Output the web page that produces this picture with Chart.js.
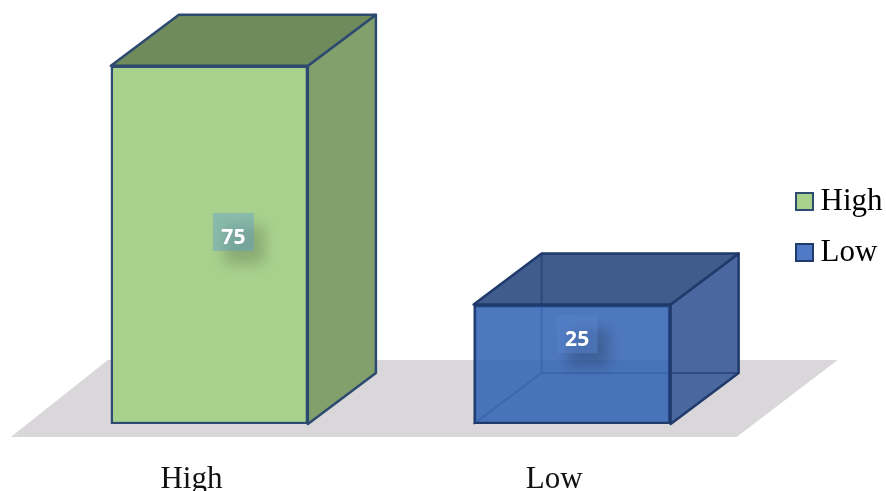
<!DOCTYPE html>
<html>
<head>
<meta charset="utf-8">
<style>
  html, body { margin: 0; padding: 0; background: #fff; }
  canvas { display: block; }
</style>
<script src="https://cdn.jsdelivr.net/npm/chart.js@4"></script>
</head>
<body>
<canvas id="chartNiveles" width="886" height="491"></canvas>
<script>
const categories = ['High', 'Low'];
const values = [75, 25];

const frontColors = ['#A9D18E', 'rgba(52,100,180,0.87)'];
const topColors = ['#6F8A5B', '#3F5C8C'];
const sideColors = ['#82A06C', '#4A689F'];
const edgeColors = ['#2D4A70', '#1F3A6B'];
const swatchFills = ['#A9D18E', '#4F79C4'];
const tagFills = ['rgba(91,155,213,0.4)', 'rgba(88,132,208,0.45)'];

// depth of the boxes and where the value tags sit relative to the bar centre
const depth = { x: 68, y: -51 };
const tagOffsets = [{ x: 24, y: -13 }, { x: 5, y: -30 }];
const legendBox = { left: 784, top: 166 };

function poligono(ctx, puntos, fill, stroke, lineWidth) {
  ctx.beginPath();
  puntos.forEach((p, i) => i ? ctx.lineTo(p[0], p[1]) : ctx.moveTo(p[0], p[1]));
  ctx.closePath();
  if (fill) { ctx.fillStyle = fill; ctx.fill(); }
  if (stroke) { ctx.strokeStyle = stroke; ctx.lineWidth = lineWidth; ctx.lineJoin = 'round'; ctx.stroke(); }
}

function crearSwatch(fill, stroke) {
  const c = document.createElement('canvas');
  c.width = 19;
  c.height = 19;
  const g = c.getContext('2d');
  g.fillStyle = fill;
  g.fillRect(1, 1, 17, 17);
  g.strokeStyle = stroke;
  g.lineWidth = 2;
  g.strokeRect(1, 1, 17, 17);
  return c;
}

// floor and the top/side faces go under the bars, the front face is the bar itself
const cajas3d = {
  id: 'cajas3d',
  beforeDraw(chart) {
    // legend sits beside the plot, away from where the layout leaves it
    chart.legend.left = legendBox.left;
    chart.legend.right = chart.width;
    chart.legend.top = legendBox.top;
  },
  beforeDatasetsDraw(chart) {
    const ctx = chart.ctx;
    const barras = chart.getDatasetMeta(0).data;
    const base = barras[0].base;
    const izq = barras[0].x - barras[0].width / 2;
    const der = barras[1].x + barras[1].width / 2;
    poligono(ctx, [
      [izq - 100, base + 13], [der + 66, base + 13],
      [der + 167, base - 64], [izq - 3, base - 64]
    ], '#D9D7D9');

    barras.forEach((bar, i) => {
      const l = bar.x - bar.width / 2;
      const r = bar.x + bar.width / 2;
      const t = bar.y;
      const b = bar.base;
      const dx = depth.x;
      const dy = depth.y;
      poligono(ctx, [[r, t], [r + dx, t + dy], [r + dx, b + dy], [r, b]], sideColors[i], edgeColors[i], 2.5);
      poligono(ctx, [[l, t], [l + dx, t + dy], [r + dx, t + dy], [r, t]], topColors[i], edgeColors[i], 2.5);
      // hidden edges, only show through the translucent box
      if (i === 1) {
        ctx.beginPath();
        ctx.moveTo(l + dx, t + dy);
        ctx.lineTo(l + dx, b + dy);
        ctx.lineTo(r + dx, b + dy);
        ctx.moveTo(l + dx, b + dy);
        ctx.lineTo(l, b);
        ctx.strokeStyle = 'rgba(31,58,107,0.6)';
        ctx.lineWidth = 2;
        ctx.stroke();
      }
    });
  },
  afterDatasetsDraw(chart) {
    const ctx = chart.ctx;
    chart.getDatasetMeta(0).data.forEach((bar, i) => {
      const cx = bar.x + tagOffsets[i].x;
      const cy = (bar.y + bar.base) / 2 + tagOffsets[i].y;
      ctx.save();
      ctx.shadowColor = 'rgba(0,0,0,0.45)';
      ctx.shadowBlur = 14;
      ctx.shadowOffsetX = 11;
      ctx.shadowOffsetY = 13;
      ctx.fillStyle = tagFills[i];
      ctx.fillRect(cx - 20.5, cy - 19, 41, 38);
      ctx.restore();
      ctx.fillStyle = '#fff';
      ctx.font = 'bold 21px "Open Sans"';
      ctx.textAlign = 'center';
      ctx.textBaseline = 'middle';
      ctx.fillText(String(values[i]), cx, cy + 6);
    });
  }
};

const ctx = document.getElementById('chartNiveles').getContext('2d');
new Chart(ctx, {
  type: 'bar',
  data: {
    labels: categories,
    datasets: [{
      data: values,
      backgroundColor: frontColors,
      borderColor: edgeColors,
      borderWidth: 2.5,
      borderSkipped: false,
      barThickness: 197
    }]
  },
  options: {
    responsive: false,
    animation: false,
    events: [],
    layout: { padding: { left: 28, top: 18, right: 24 } },
    plugins: {
      tooltip: { enabled: false },
      legend: {
        position: 'right',
        align: 'start',
        labels: {
          font: { family: '"Liberation Serif"', size: 31 },
          color: '#111',
          padding: 20,
          boxWidth: 1,
          usePointStyle: true,
          generateLabels: () => categories.map((c, i) => ({
            text: c,
            pointStyle: crearSwatch(swatchFills[i], edgeColors[i]),
            fillStyle: swatchFills[i],
            strokeStyle: edgeColors[i],
            lineWidth: 0,
            hidden: false,
            index: i
          }))
        }
      }
    },
    scales: {
      x: {
        grid: { display: false },
        border: { display: false },
        afterFit: scale => { scale.height = 67; },
        ticks: {
          font: { family: '"Liberation Serif"', size: 31 },
          color: '#111',
          padding: 29,
          labelOffset: -18,
          maxRotation: 0
        }
      },
      y: {
        display: false,
        min: 0,
        max: 85
      }
    }
  },
  plugins: [cajas3d]
});
</script>
</body>
</html>
